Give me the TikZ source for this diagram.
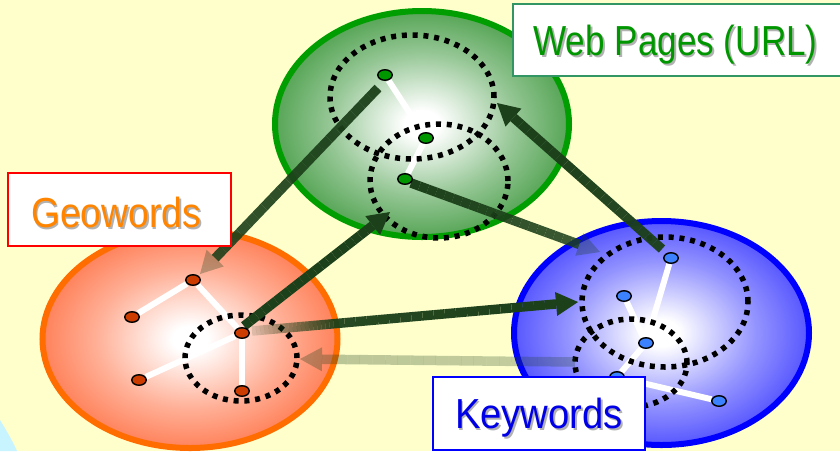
\documentclass[tikz,border=0pt]{standalone}
\usepackage{fontspec}
\usepackage{graphicx}
\newfontfamily\lblfont{Liberation Sans}
\usetikzlibrary{shapes.geometric,calc}
\definecolor{bgyellow}{RGB}{255,255,204}
\definecolor{cyanc}{RGB}{200,244,255}
\definecolor{gring}{RGB}{0,158,0}
\definecolor{gfill}{RGB}{40,140,40}
\definecolor{oring}{RGB}{255,108,0}
\definecolor{ofill}{RGB}{255,95,45}
\definecolor{bring}{RGB}{0,0,255}
\definecolor{bfill}{RGB}{40,40,255}
\definecolor{arrowc}{RGB}{28,64,26}
\definecolor{gvert}{RGB}{0,150,0}
\definecolor{overt}{RGB}{204,60,0}
\definecolor{bvert}{RGB}{60,130,255}
\definecolor{geotxt}{RGB}{255,132,0}
\definecolor{webtxt}{RGB}{0,150,0}
\definecolor{keytxt}{RGB}{0,0,230}
\definecolor{webbox}{RGB}{50,150,100}
\definecolor{shadowc}{RGB}{178,178,178}
\pgfdeclareradialshading{greenball}{\pgfpoint{0bp}{0bp}}{color(0bp)=(white); color(3bp)=(white); color(16bp)=(gfill!50!white); color(32bp)=(gfill); color(50bp)=(gfill)}
\pgfdeclareradialshading{orangeball}{\pgfpoint{0bp}{0bp}}{color(0bp)=(white); color(3bp)=(white); color(16bp)=(ofill!50!white); color(32bp)=(ofill); color(50bp)=(ofill)}
\pgfdeclareradialshading{blueball}{\pgfpoint{0bp}{0bp}}{color(0bp)=(white); color(3bp)=(white); color(16bp)=(bfill!50!white); color(32bp)=(bfill); color(50bp)=(bfill)}
\pgfdeclarelayer{bg}
\pgfdeclarelayer{back}
\pgfdeclarelayer{mid}
\pgfsetlayers{bg,back,mid,main}
\newcommand\lbl[3]{\scalebox{#1}[1]{\lblfont\fontsize{42}{48}\selectfont\makebox[0pt][l]{\kern2pt\raisebox{-2pt}{\color{shadowc}#3}}\color{#2}#3}}
\newcommand\fadeshaft[4]{%
  \foreach \i in {1,...,20}{%
    \pgfmathsetmacro\myop{#3+(#4-#3)*(\i-0.5)/20}%
    \draw[shaftst, draw opacity=\myop] ($(#1)!{(\i-1)/20}!(#2)$) -- ($(#1)!{\i/20}!(#2)$);
  }}
\newcommand\bigarrow[5]{%
  \coordinate (#2-b) at ($(#2)!22pt!(#1)$);
  \fadeshaft{#1}{#2-b}{#3}{#4}
  \fill[arrowc, fill opacity=#5] (#2) -- ($(#2-b)!12pt!90:(#2)$) -- ($(#2-b)!12pt!-90:(#2)$) -- cycle;}
\begin{document}
\begin{tikzpicture}[x=1pt,y=-1pt,
  bigell/.style={ellipse, inner sep=0pt, line width=6pt, shade},
  dotell/.style={ellipse, inner sep=0pt, draw=black, line width=5.5pt, dash pattern=on 5pt off 5.8pt},
  vert/.style={ellipse, inner sep=0pt, minimum width=14.5pt, minimum height=10.5pt, draw=black, line width=1.4pt},
  wedge/.style={draw=white, line width=6pt},
  shaftst/.style={draw=arrowc, line width=9.5pt, line cap=butt},
  lblbox/.style={fill=white, line width=2pt, inner sep=0pt, anchor=north west},
  lbltext/.style={anchor=base, inner sep=0pt}]
\begin{pgfonlayer}{bg}
\fill[bgyellow] (0,0) rectangle (840,451);
\fill[cyanc] (0,420) .. controls (8,433) and (13,442) .. (17,451) -- (0,451) -- cycle;
\end{pgfonlayer}
\useasboundingbox (0,0) rectangle (840,451);

% big ellipses
\begin{pgfonlayer}{back}
\node[bigell, shading=greenball, draw=gring, minimum width=294pt, minimum height=226pt] (G) at (422,124) {};
\node[bigell, shading=orangeball, draw=oring, minimum width=295pt, minimum height=218pt] (O) at (190,339) {};
\node[bigell, shading=blueball, draw=bring, minimum width=295pt, minimum height=224pt] (B) at (661.5,333) {};
\end{pgfonlayer}

% vertices
\node[vert, fill=gvert] (g1) at (385,75) {};
\node[vert, fill=gvert] (g2) at (426,138) {};
\node[vert, fill=gvert] (g3) at (405,179) {};
\node[vert, fill=overt] (o1) at (193,280) {};
\node[vert, fill=overt] (o2) at (132,317) {};
\node[vert, fill=overt] (o3) at (242,333) {};
\node[vert, fill=overt] (o4) at (139,380) {};
\node[vert, fill=overt] (o5) at (242,391) {};
\node[vert, fill=bvert] (b1) at (671,258) {};
\node[vert, fill=bvert] (b2) at (624,296) {};
\node[vert, fill=bvert] (b3) at (646,343) {};
\node[vert, fill=bvert] (b4) at (617,377) {};
\node[vert, fill=bvert] (b5) at (719,401) {};

% arrow end points
\coordinate (a1s) at (378,88);   \coordinate (a1t) at (200,274);
\coordinate (a2s) at (244,326);  \coordinate (a2t) at (390,212);
\coordinate (a3s) at (252,331);  \coordinate (a3t) at (578,302);
\coordinate (a3m) at ($(a3s)!0.25!(a3t)$);
\coordinate (a4s) at (575,362);  \coordinate (a4t) at (300,359);
\coordinate (a5s) at (411,183);  \coordinate (a5t) at (600,252);
\coordinate (a6s) at (662,249);  \coordinate (a6t) at (497,103);

\begin{pgfonlayer}{mid}
% white edges
\draw[wedge] (g1) -- (g2) -- (g3);
\draw[wedge] (o2) -- (o1) -- (o3) -- (o4);
\draw[wedge] (o3) -- (o5);
\draw[wedge] (b1) -- (b3) -- (b4) -- (b5);
\draw[wedge] (b2) -- (b3);
% dotted ellipses
\node[dotell, minimum width=164pt, minimum height=124pt] (gd1) at (412,97) {};
\node[dotell, minimum width=138pt, minimum height=114pt] (gd2) at (439,181) {};
\node[dotell, minimum width=112pt, minimum height=86pt] (od1) at (241,358) {};
\node[dotell, minimum width=166pt, minimum height=130pt] (bd1) at (665,302) {};
\node[dotell, minimum width=112pt, minimum height=88pt] (bd2) at (631,363) {};
% arrows
\bigarrow{a1s}{a1t}{0.95}{0.9}{0.3}
\bigarrow{a2s}{a2t}{1}{1}{1}
\fadeshaft{a3s}{a3m}{0.12}{0.92}
\bigarrow{a3m}{a3t}{0.95}{1}{1}
\bigarrow{a4s}{a4t}{0.25}{0.3}{0.3}
\bigarrow{a5s}{a5t}{1}{0.85}{0.3}
\bigarrow{a6s}{a6t}{0.95}{1}{1}
\end{pgfonlayer}

% labels
\node[lblbox, draw=red, minimum width=223pt, minimum height=73pt] (geobox) at (7,172) {};
\node[lbltext] (geotext) at (116,227) {\lbl{0.888}{geotxt}{Geowords}};

\node[lblbox, draw=webbox, minimum width=340pt, minimum height=72pt] (webbox) at (512,3) {};
\node[lbltext] (webtext) at (675.5,55) {\lbl{0.836}{webtxt}{Web Pages (URL)}};

\node[lblbox, draw=bring, minimum width=212pt, minimum height=73pt] (keybox) at (432,376) {};
\node[lbltext] (keytext) at (539,428) {\lbl{0.911}{keytxt}{Keywords}};
\end{tikzpicture}
\end{document}
